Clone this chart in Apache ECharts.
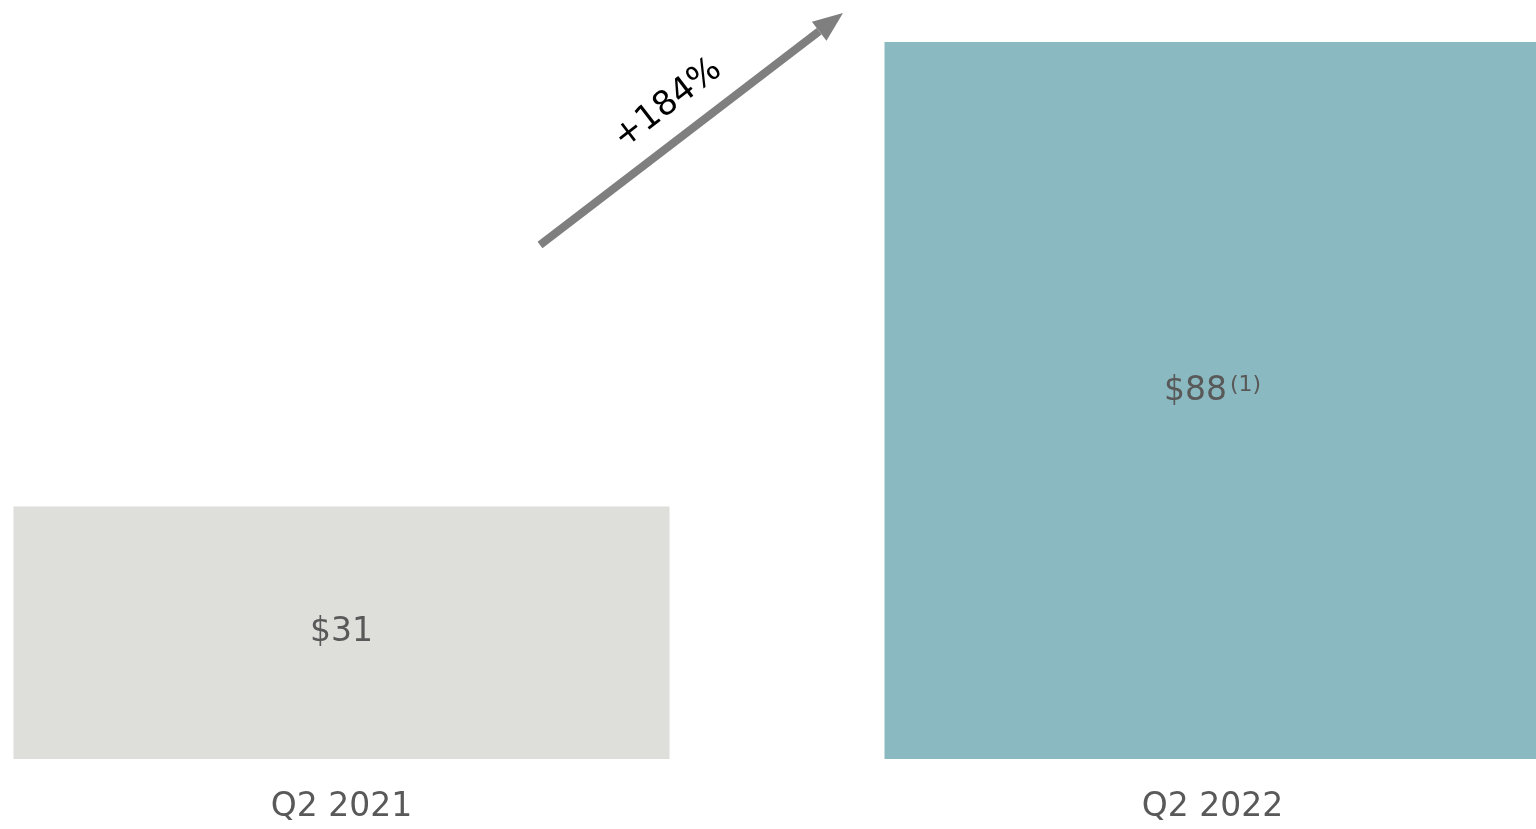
<!DOCTYPE html>
<html>
<head>
<meta charset="utf-8">
<script src="https://cdn.jsdelivr.net/npm/echarts@6/dist/echarts.min.js"></script>
<style>
  html, body { margin: 0; padding: 0; background: #fff; }
  #chart { width: 1536px; height: 829px; }
</style>
</head>
<body>
<div id="chart"></div>
<script>
const quarters = ['Q2 2021', 'Q2 2022'];
const values = [31, 88];
const valueLabels = ['{v|$31}', '{v|$88}{s|(1)}'];
const barColors = ['#dededb', '#8ab9c1'];
const growthText = '+184%';

let myChart = echarts.init(document.getElementById('chart'));

// arrow geometry (annotation only)
const tail = [540, 245];
const tip = [843, 13];
const dx = tip[0] - tail[0], dy = tip[1] - tail[1];
const len = Math.sqrt(dx * dx + dy * dy);
const ux = dx / len, uy = dy / len;
const headLen = 30, headHalf = 12;
const base = [tip[0] - ux * headLen, tip[1] - uy * headLen];
const angle = Math.atan2(-dy, dx);

var option = {
  animation: false,
  grid: { left: -94, width: 1742, top: 42, bottom: 70, outerBoundsMode: 'none', containLabel: false },
  xAxis: {
    type: 'category',
    data: quarters,
    axisLine: { show: false },
    axisTick: { show: false },
    axisLabel: {
      color: '#595959',
      fontSize: 33,
      fontFamily: 'DejaVu Sans',
      margin: 32
    }
  },
  yAxis: {
    type: 'value',
    min: 0,
    max: 88,
    show: false,
    splitLine: { show: false }
  },
  series: [
    {
      type: 'bar',
      barWidth: 656,
      data: values.map(function (v, i) {
        return {
          value: v,
          itemStyle: { color: barColors[i] },
          label: { formatter: valueLabels[i], offset: [0, i === 0 ? 0 : -9] }
        };
      }),
      label: {
        show: true,
        position: 'inside',
        rich: {
          v: { fontSize: 33, color: '#595959', fontFamily: 'DejaVu Sans' },
          s: { fontSize: 22, color: '#595959', fontFamily: 'DejaVu Sans', verticalAlign: 'top', padding: [0, 0, 12, 3] }
        }
      }
    }
  ],
  graphic: [
    {
      type: 'line',
      shape: { x1: tail[0], y1: tail[1], x2: base[0], y2: base[1] },
      style: { stroke: '#7f7f7f', lineWidth: 8 }
    },
    {
      type: 'polygon',
      shape: {
        points: [
          tip,
          [base[0] - uy * headHalf, base[1] + ux * headHalf],
          [base[0] + uy * headHalf, base[1] - ux * headHalf]
        ]
      },
      style: { fill: '#7f7f7f' }
    },
    {
      type: 'text',
      x: 668,
      y: 104,
      rotation: angle,
      style: {
        text: growthText,
        fontSize: 34,
        fontFamily: 'DejaVu Sans',
        fill: '#000',
        align: 'center',
        verticalAlign: 'middle'
      }
    }
  ]
};
myChart.setOption(option);
</script>
</body>
</html>
